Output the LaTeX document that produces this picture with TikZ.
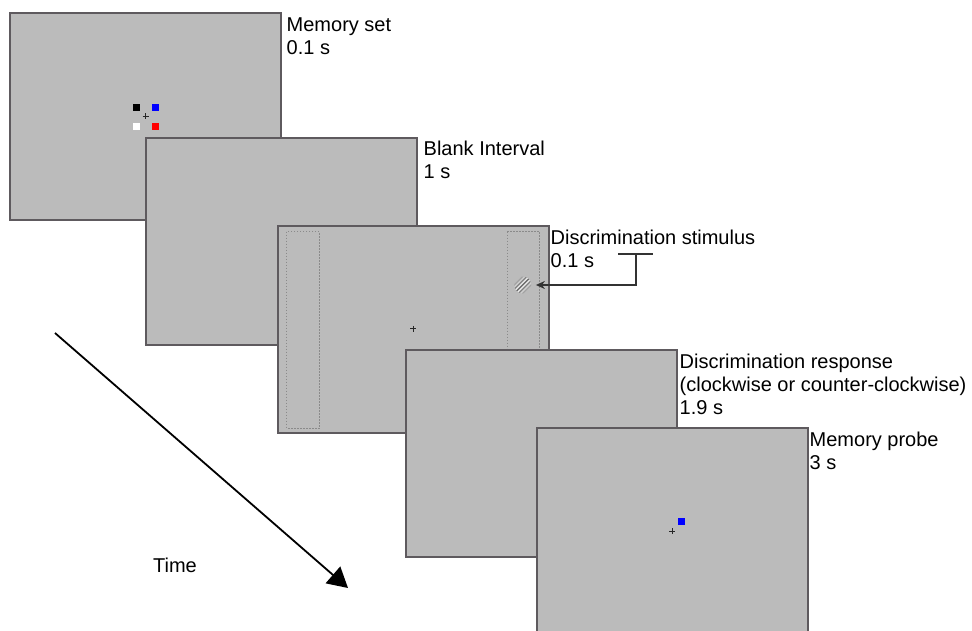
\documentclass[tikz,border=0pt]{standalone}
\usepackage{fontspec}
\setmainfont{Liberation Sans}
\usetikzlibrary{arrows.meta}
\definecolor{scr}{HTML}{BBBBBB}
\definecolor{edge}{HTML}{5E5A5E}
\definecolor{dotc}{HTML}{8A8A8A}
\definecolor{dk}{HTML}{5A5A5A}
\definecolor{conn}{HTML}{333333}
\begin{document}
\begin{tikzpicture}[x=1bp,y=-1bp,
  screen/.style={draw=edge, fill=scr, line width=1.2bp, minimum width=271bp,
    minimum height=207bp, anchor=north west, inner sep=0pt, outer sep=0pt},
  lab/.style={anchor=north west, inner sep=0pt, align=left,
    font=\fontsize{20bp}{23bp}\selectfont},
  sq/.style={minimum size=7bp, inner sep=0pt, draw=none},
  dotbox/.style={draw=dotc, line width=0.9bp, dash pattern=on 1.5bp off 1.5bp},
  connline/.style={draw=conn, line width=1.6bp},
  fix/.pic={\draw[line width=0.9bp, black!85] (-3,0)--(3,0) (0,-3)--(0,3);}
]
\clip (0,0) rectangle (972,631);

% screen 1: memory set
\node[screen] (s1) at (10,13) {};
\node[sq, fill=black] (k1) at (136.3,107.5) {};
\node[sq, fill=blue] (k2) at (155.5,107.5) {};
\node[sq, fill=white] (k3) at (136.3,126.5) {};
\node[sq, fill=red] (k4) at (155.5,126.5) {};
\pic at (145.7,116.3) {fix};
\node[lab] (l1) at (286.5,18) {Memory set\\0.1 s};

% screen 2: blank
\node[screen] (s2) at (146,138) {};
\node[lab] (l2) at (423.5,140.5) {Blank Interval\\1 s};

% screen 3: discrimination stimulus
\node[screen] (s3) at (278,226) {};
\draw[dotbox] (286.7,231.7) rectangle (319.3,428.3);
\draw[dotbox] (507.3,231.7) rectangle (539.3,428.3);
\pic at (413.3,328.8) {fix};
\node[circle, minimum size=16bp, inner sep=0pt] (grat) at (522.7,285) {};
\begin{scope}
  \clip (522.7,285) circle (8.5);
  \foreach \o/\c/\a in {-6/dk/0.25, -4.5/white/0.3, -3/dk/0.6, -1.5/white/0.7,
      0/dk/0.9, 1.5/white/0.7, 3/dk/0.6, 4.5/white/0.3, 6/dk/0.25}
    \draw[\c, opacity=\a, line width=1.1bp]
      ({522.7+\o*0.707-8},{285+\o*0.707+8}) -- ({522.7+\o*0.707+8},{285+\o*0.707-8});
\end{scope}
\node[lab] (l3) at (550.5,229.5) {Discrimination stimulus\\0.1 s};
\coordinate (br1) at (618,254);
\coordinate (br2) at (653,254);
\coordinate (brm) at (636,254);
\draw[connline] (br1) -- (br2);
\draw[connline, -{Stealth[length=9bp,width=8bp]}] (brm) |- ([xshift=5bp]grat.east);

% screen 4: discrimination response
\node[screen] (s4) at (406,350) {};
\node[lab] (l4) at (679.5,353.5) {Discrimination response\\(clockwise or counter-clockwise)\\1.9 s};

% screen 5: memory probe
\node[screen] (s5) at (537,428) {};
\node[sq, fill=blue] (p1) at (681.5,521.5) {};
\pic at (672,531.3) {fix};
\node[lab] (l5) at (809.5,431.5) {Memory probe\\3 s};

% time arrow
\coordinate (t0) at (55,333);
\coordinate (t1) at (348,588);
\draw[line width=1.8bp, -{Triangle[length=20bp,width=22bp]}] (t0) -- (t1);
\node[font=\fontsize{20bp}{23bp}\selectfont, inner sep=0pt] (time) at (175,565) {Time};
\end{tikzpicture}
\end{document}
